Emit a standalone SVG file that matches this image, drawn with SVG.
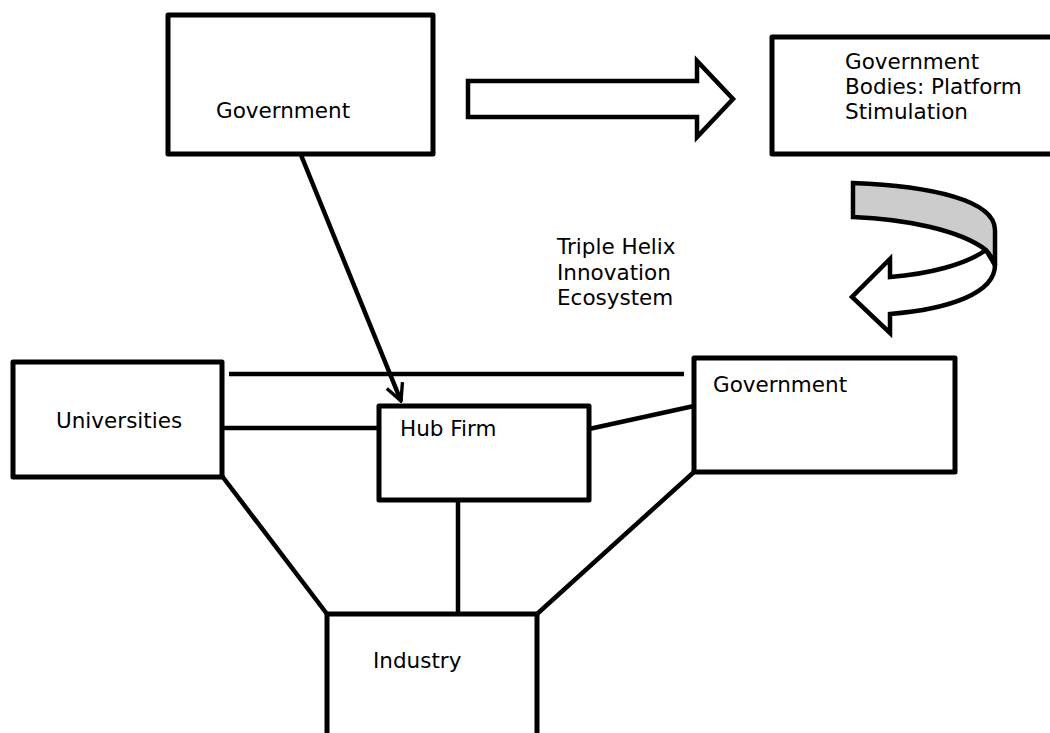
<svg xmlns="http://www.w3.org/2000/svg" width="1050" height="733" viewBox="0 0 1050 733">
  <defs>
    <style>
      .box { fill: #ffffff; stroke: #000000; stroke-width: 5; stroke-linejoin: round; }
      .lbl { font-family: "DejaVu Sans", Verdana, sans-serif; font-size: 21.5px; fill: #000000; }
      .link { fill: none; stroke: #000000; stroke-width: 4.5; stroke-linecap: butt; }
      .shape { stroke: #000000; stroke-width: 4.5; stroke-linejoin: miter; }
    </style>
    <marker id="open-arrow" viewBox="0 0 12 12" refX="11" refY="6" markerWidth="4.5" markerHeight="4.5" orient="auto" markerUnits="strokeWidth">
      <path d="M1,1 L11,6 L1,11" fill="none" stroke="#000000" stroke-width="2"/>
    </marker>
  </defs>
  <rect width="1050" height="733" fill="#ffffff"/>

  <!-- connectors -->
  <g id="connectors">
    <line class="link" x1="301" y1="155" x2="401" y2="401" marker-end="url(#open-arrow)"/>
    <line class="link" x1="229" y1="374" x2="684" y2="374"/>
    <line class="link" x1="222" y1="428" x2="379" y2="428"/>
    <line class="link" x1="589" y1="429" x2="694" y2="406"/>
    <line class="link" x1="458" y1="500" x2="458" y2="614"/>
    <line class="link" x1="222" y1="476" x2="327" y2="614"/>
    <line class="link" x1="694" y1="472" x2="537" y2="614"/>
  </g>

  <!-- block arrow pointing right -->
  <g id="block-arrow">
    <path class="shape" fill="#ffffff" d="M468,81 L697,81 L697,61 L733,99 L697,137 L697,117 L468,117 Z"/>
  </g>

  <!-- curved return arrow -->
  <g id="curved-arrow">
    <path class="shape" fill="#ffffff" d="M986,250 C965,265 928,274 890,277 L890,259 L852,297 L890,333 L890,314 C950,309 995,293 995,265 Z"/>
    <path class="shape" fill="#cccccc" d="M853,183 C930,186 995,200 995,230 L995,265 C992,258 989,253 986,250 C960,230 905,219 853,217 Z"/>
  </g>

  <g id="node-gov-top">
    <rect class="box" x="168" y="15" width="265" height="139"/>
    <text class="lbl" x="216" y="118">Government</text>
  </g>

  <g id="node-gov-bodies">
    <rect class="box" x="772" y="37" width="300" height="117"/>
    <text class="lbl" x="845" y="69">Government</text>
    <text class="lbl" x="845" y="94">Bodies: Platform</text>
    <text class="lbl" x="845" y="119">Stimulation</text>
  </g>

  <g id="caption">
    <text class="lbl" x="557" y="254">Triple Helix</text>
    <text class="lbl" x="557" y="280">Innovation</text>
    <text class="lbl" x="557" y="305">Ecosystem</text>
  </g>

  <g id="node-universities">
    <rect class="box" x="13" y="362" width="209" height="115"/>
    <text class="lbl" x="56" y="428">Universities</text>
  </g>

  <g id="node-hub-firm">
    <rect class="box" x="379" y="406" width="210" height="94"/>
    <text class="lbl" x="400" y="436">Hub Firm</text>
  </g>

  <g id="node-gov-right">
    <rect class="box" x="694" y="358" width="261" height="114"/>
    <text class="lbl" x="713" y="392">Government</text>
  </g>

  <g id="node-industry">
    <rect class="box" x="327" y="614" width="210" height="140"/>
    <text class="lbl" x="373" y="668">Industry</text>
  </g>
</svg>
